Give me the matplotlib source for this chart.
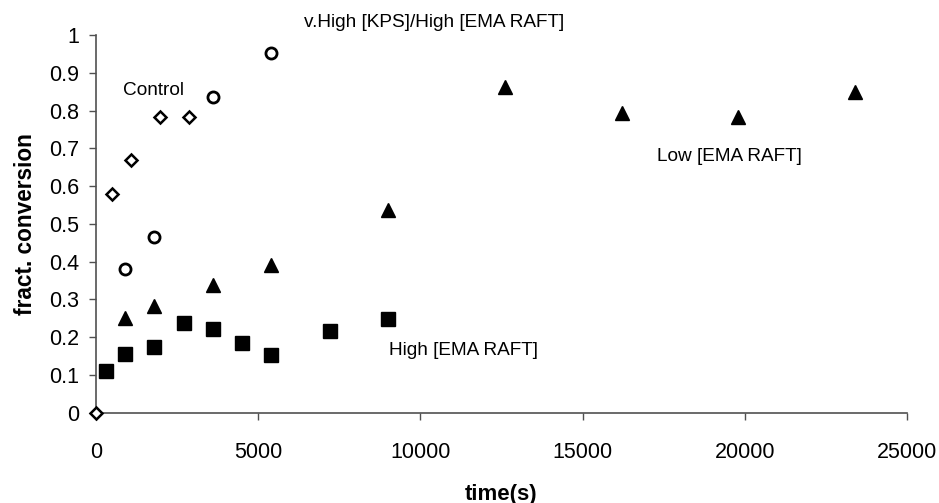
#!/usr/bin/env python3

import matplotlib
matplotlib.use('Agg')
import matplotlib.pyplot as plt

plt.rcParams['font.family'] = ['Liberation Sans', 'DejaVu Sans']

# Control (open diamonds)
control_t = [0, 480, 1080, 1980, 2880]
control_x = [0.0, 0.579, 0.669, 0.784, 0.784]

# v.High [KPS]/High [EMA RAFT] (open circles)
vhigh_t = [900, 1800, 3600, 5400]
vhigh_x = [0.380, 0.464, 0.837, 0.952]

# Low [EMA RAFT] (filled triangles)
low_t = [900, 1800, 3600, 5400, 9000, 12600, 16200, 19800, 23400]
low_x = [0.250, 0.282, 0.337, 0.390, 0.537, 0.862, 0.794, 0.784, 0.849]

# High [EMA RAFT] (filled squares)
high_t = [300, 900, 1800, 2700, 3600, 4500, 5400, 7200, 9000]
high_x = [0.110, 0.155, 0.173, 0.237, 0.221, 0.185, 0.153, 0.216, 0.248]

xticks = [0, 5000, 10000, 15000, 20000, 25000]
yticks = [0, 0.1, 0.2, 0.3, 0.4, 0.5, 0.6, 0.7, 0.8, 0.9, 1.0]
ytick_labels = ['0', '0.1', '0.2', '0.3', '0.4', '0.5', '0.6', '0.7', '0.8', '0.9', '1']

fig = plt.figure(figsize=(9.39, 5.03), dpi=100)
ax = fig.add_axes([0.1022, 0.1795, 0.8637, 0.7509])

ax.plot(high_t, high_x, 's', color='black', markersize=10, clip_on=False)
ax.plot(low_t, low_x, '^', color='black', markersize=10, clip_on=False)
ax.plot(vhigh_t, vhigh_x, 'o', mfc='white', mec='black', mew=2.0,
        markersize=8, clip_on=False)
ax.plot(control_t, control_x, 'D', mfc='white', mec='black', mew=1.8,
        markersize=6.2, clip_on=False, zorder=5)

ax.set_xlim(0, 25000)
ax.set_ylim(0, 1)
ax.set_xticks(xticks)
ax.set_xticklabels([str(t) for t in xticks])
ax.set_yticks(yticks)
ax.set_yticklabels(ytick_labels)

for side in ('top', 'right'):
    ax.spines[side].set_visible(False)
for side in ('left', 'bottom'):
    ax.spines[side].set_color('#505050')
    ax.spines[side].set_linewidth(1.2)

ax.tick_params(axis='both', direction='out', length=5, width=1,
               color='#505050', labelsize=15.5)
ax.tick_params(axis='x', pad=16)
ax.tick_params(axis='y', pad=7)

ax.set_xlabel('time(s)', fontsize=16, fontweight='bold', labelpad=15)
ax.set_ylabel('fract. conversion', fontsize=16.3, fontweight='bold', labelpad=9)

ax.text(6400, 1.032, 'v.High [KPS]/High [EMA RAFT]', fontsize=13.7,
        ha='left', va='center', clip_on=False)
ax.text(820, 0.853, 'Control', fontsize=13.7, ha='left', va='center')
ax.text(9040, 0.166, 'High [EMA RAFT]', fontsize=13.7, ha='left', va='center')
ax.text(17300, 0.678, 'Low [EMA RAFT]', fontsize=13.7, ha='left', va='center')

fig.savefig('out.png', dpi=100)
